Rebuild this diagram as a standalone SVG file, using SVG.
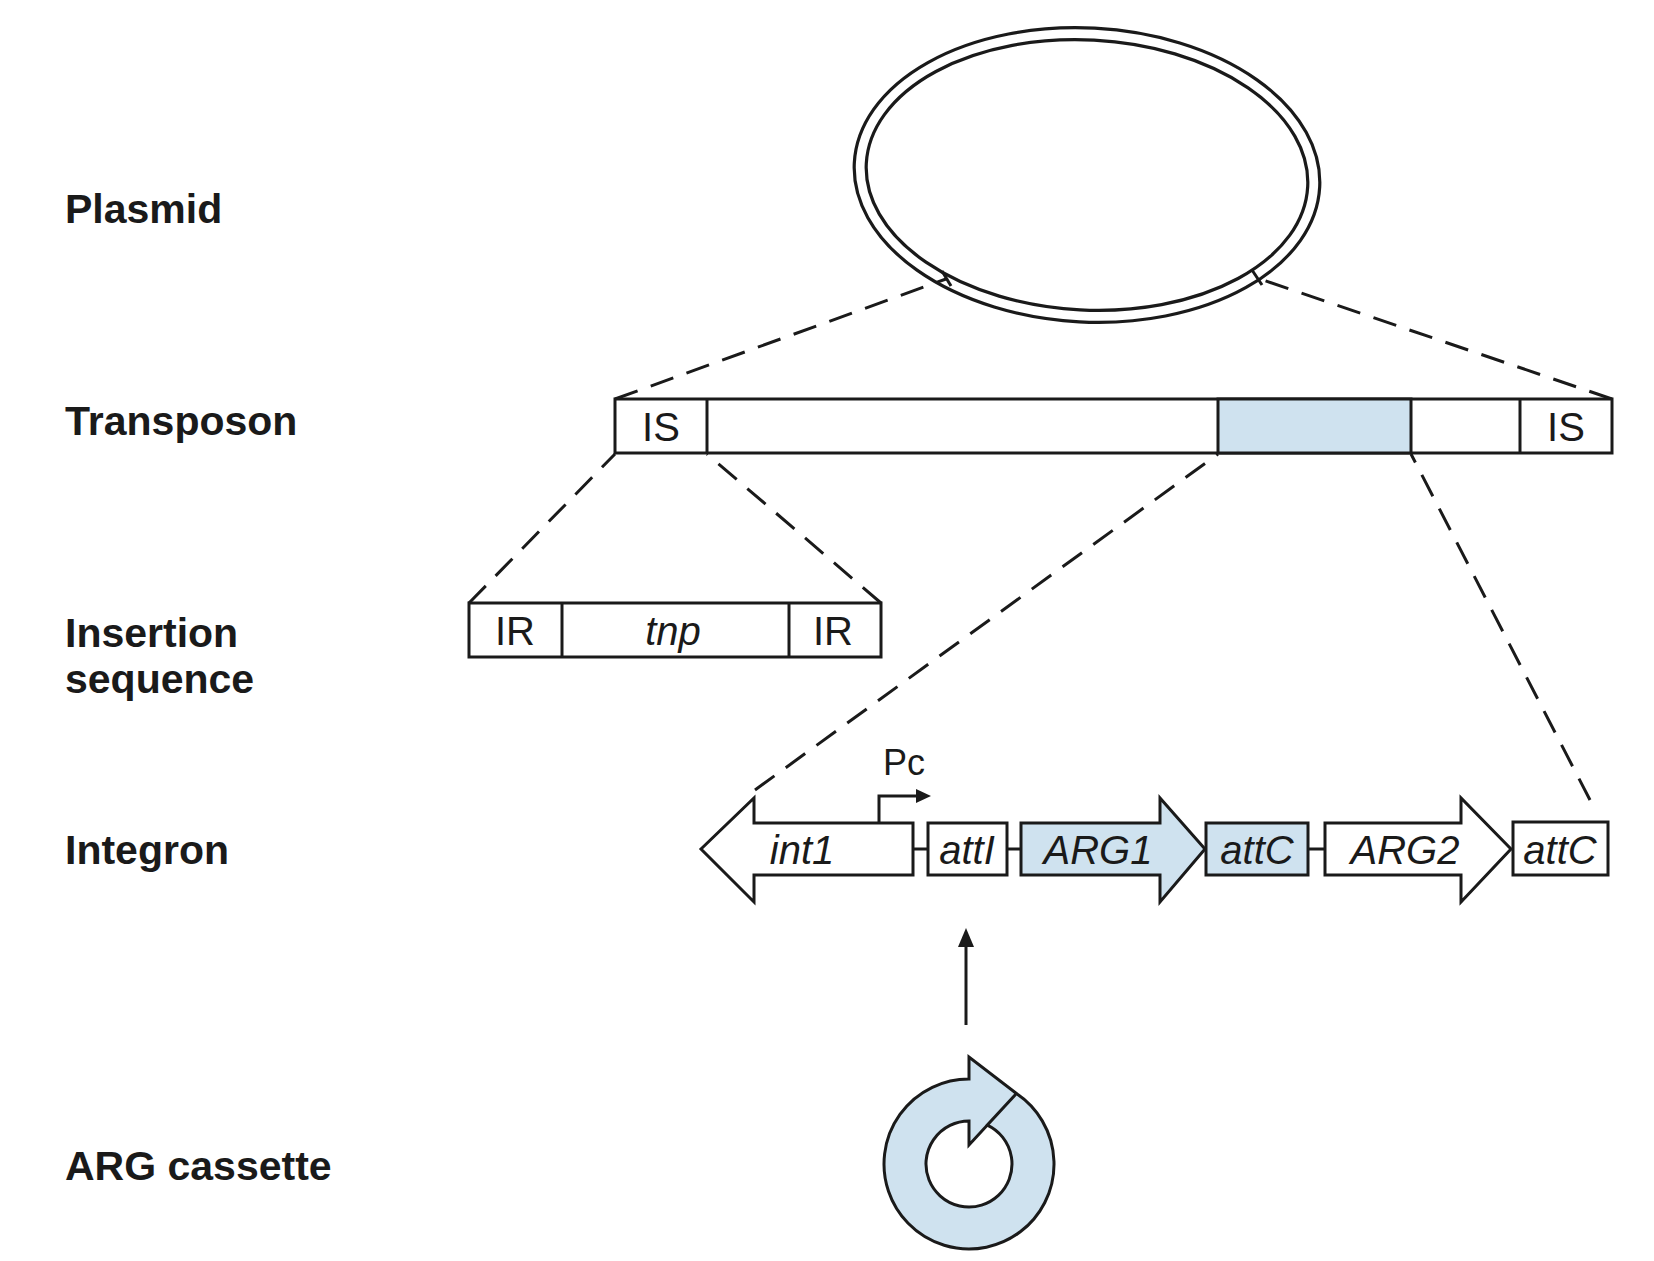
<svg xmlns="http://www.w3.org/2000/svg" width="1654" height="1261" viewBox="0 0 1654 1261">
<defs>
<style>
.lbl{font-family:"Liberation Sans",Arial,sans-serif;font-weight:bold;font-size:41px;fill:#1a1a1a}
.t{font-family:"Liberation Sans",Arial,sans-serif;font-size:40px;fill:#1a1a1a;text-anchor:middle}
.i{font-style:italic}
.box{fill:#fff;stroke:#1a1a1a;stroke-width:3}
.blue{fill:#cfe2ef;stroke:#1a1a1a;stroke-width:3}
.ln{fill:none;stroke:#1a1a1a;stroke-width:3}
.dash{fill:none;stroke:#1a1a1a;stroke-width:3;stroke-dasharray:24 14}
.ah{fill:#1a1a1a}
</style>
</defs>
<rect width="1654" height="1261" fill="#fff"/>

<g id="labels">
<text class="lbl" x="65" y="223">Plasmid</text>
<text class="lbl" x="65" y="435">Transposon</text>
<text class="lbl" x="65" y="647">Insertion</text>
<text class="lbl" x="65" y="693">sequence</text>
<text class="lbl" x="65" y="864">Integron</text>
<text class="lbl" x="65" y="1180">ARG cassette</text>
</g>

<g id="connectors">
<path class="dash" d="M615,399 L946,279"/>
<path class="dash" d="M1612,399 L1257,278"/>
<path class="dash" d="M469,603 L615,454"/>
<path class="dash" d="M881,603 L707,454"/>
<path class="dash" d="M755,790 L1218,454"/>
<path class="dash" d="M1590,800 L1411,454"/>
<line class="ln" x1="966" y1="1025" x2="966" y2="944"/>
<polygon class="ah" points="966,928 958,947 974,947"/>
</g>

<g id="plasmid">
<g transform="rotate(3 1087 175)">
<ellipse cx="1087" cy="175" rx="233" ry="147" fill="none" stroke="#1a1a1a" stroke-width="3.2"/>
<ellipse cx="1087" cy="175" rx="221" ry="135" fill="none" stroke="#1a1a1a" stroke-width="3.2"/>
</g>
<line class="ln" x1="942" y1="271" x2="951" y2="286"/>
<line class="ln" x1="1252" y1="270" x2="1262" y2="285"/>
</g>

<g id="transposon">
<rect class="box" x="615" y="399" width="997" height="54"/>
<rect class="blue" x="1218" y="399" width="193" height="54"/>
<line class="ln" x1="707" y1="399" x2="707" y2="453"/>
<line class="ln" x1="1520" y1="399" x2="1520" y2="453"/>
<text class="t" x="661" y="441">IS</text>
<text class="t" x="1566" y="441">IS</text>
</g>

<g id="insertion-sequence">
<rect class="box" x="469" y="603" width="412" height="54"/>
<line class="ln" x1="562" y1="603" x2="562" y2="657"/>
<line class="ln" x1="789" y1="603" x2="789" y2="657"/>
<text class="t" x="515" y="645">IR</text>
<text class="t i" x="673" y="645">tnp</text>
<text class="t" x="833" y="645">IR</text>
</g>

<g id="integron">
<line class="ln" x1="913" y1="849" x2="928" y2="849"/>
<line class="ln" x1="1007" y1="849" x2="1021" y2="849"/>
<line class="ln" x1="1308" y1="849" x2="1325" y2="849"/>
<polygon class="box" points="701,849 754,798 754,823 913,823 913,875 754,875 754,902"/>
<text class="t i" x="802" y="864">int1</text>
<rect class="box" x="928" y="823" width="79" height="52"/>
<text class="t i" x="967" y="864">attI</text>
<polygon class="blue" points="1021,823 1160,823 1160,798 1205,849 1160,902 1160,875 1021,875"/>
<text class="t i" x="1098" y="864">ARG1</text>
<rect class="blue" x="1206" y="823" width="102" height="52"/>
<text class="t i" x="1257" y="864">attC</text>
<polygon class="box" points="1325,823 1461,823 1461,798 1511,849 1461,902 1461,875 1325,875"/>
<text class="t i" x="1405" y="864">ARG2</text>
<rect class="box" x="1513" y="822" width="95" height="53"/>
<text class="t i" x="1560" y="864">attC</text>
<path class="ln" d="M879,823 V796 H918"/>
<polygon class="ah" points="931,796 916,789 916,803"/>
<text class="t" x="904" y="775" style="font-size:36px">Pc</text>
</g>

<g id="arg-cassette">
<path class="blue" d="M969,1079 L969,1057 L1016.5,1093.5 L969,1145 L969,1121 A43,43 0 1 0 987.3,1125.1 L1016.5,1093.5 A85,85 0 1 1 969,1079 Z"/>
</g>
</svg>
